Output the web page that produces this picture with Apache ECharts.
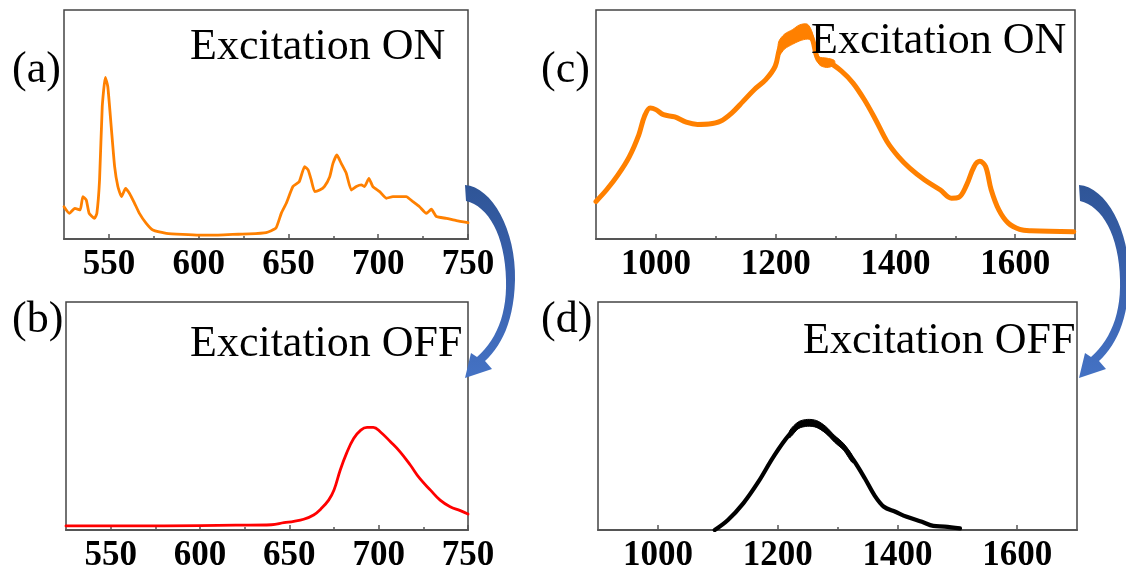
<!DOCTYPE html>
<html><head><meta charset="utf-8">
<script src="https://cdn.jsdelivr.net/npm/echarts@6/dist/echarts.min.js"></script>
<style>html,body{margin:0;padding:0;background:#fff}#c{width:1126px;height:568px}</style>
</head><body><div id="c"></div>
<script>
// ---- data (arbitrary intensity units, 0..100 of the frame height) ----
const aX = [525,528,531,534,535.5,537.4,539,542,543.3,544.8,546.3,548,549.4,551.3,553.2,555,557,559.3,561.5,564.3,567,570.8,574.5,582,591,600.5,610,619,628,637.6,643,646,648.8,652.5,656,659,661,662.7,664.6,667.4,670,673,674.8,677,679.4,682.2,685,687.8,690.6,692.4,694.8,697,700.8,704.5,708.2,712,715.6,719.3,723,726.8,729.6,732.4,738,743.5,750];
const aY = [14.1,11.2,13.4,12.7,18.5,17,11.2,9,11.2,25.8,57.8,70.6,66.5,49,31.6,22.9,18.5,22.1,19.9,15.6,11.2,6.8,3.9,2.5,2,1.7,1.7,2,2.2,2.8,4.7,11.2,15.6,22.9,25,31.6,30.1,25.8,20.7,21.4,22.9,27.2,33,36.7,33,28.7,21.4,22.9,23.6,22.9,26.5,22.9,20.7,17.8,18.5,18.5,18.5,16.3,14.1,11.2,13,9.8,9,8,7.1];

const bX = [525,560,600,620,640,647,652.5,658,663.6,668,672,675,678.5,682,686,690,693.5,697,701,706.6,712,717.7,723,729,734.4,740,745.7,750];
const bY = [1.8,1.8,1.9,2.1,2.3,3.2,3.8,4.7,6.6,9.5,13.1,17.5,26.3,33.6,40.1,43.8,45,45,43,38.7,34.3,28.5,22.6,17.5,13.1,10.2,8.5,7];

const cX = [900,917.7,936.7,955.7,971.5,981,990.5,1000,1012.6,1031.6,1050.6,1069.6,1088.6,1107.6,1126.6,1145.6,1164.6,1183.5,1199.4,1209,1228,1246.8,1259.5,1272,1291,1310,1329,1348,1367,1386,1405,1424,1449,1474.7,1493.7,1506,1519,1531.6,1541,1550.6,1560,1572.8,1588.6,1607.6,1626.6,1698];
const cY = [16.4,21.5,28,36,45.5,53.6,57.2,56.5,54.3,53.3,51,50,50.2,51.4,55,60.1,65.3,69.6,75.5,84.5,88,90.5,88.5,78,76.8,73.3,68.2,60.9,52.1,42.6,36,31,25.8,21.5,17.8,18.2,23.6,31.7,33.9,31.7,21.5,12.7,6.9,4.2,3.6,3.2];
// noisy thick band near the (c) maximum
const cBandX = [1205,1215,1228,1240,1253,1260,1265,1272,1285,1298];
const cBandLo = [80,83,85,86.5,87.3,86.5,83.5,76.4,74.9,76];
const cBandHi = [86,89.5,91.4,93.5,93.8,91,86.5,79.7,79,78];

const dX = [1095,1117,1142.6,1168,1193,1218.8,1237.8,1253.7,1269.6,1288.6,1307.7,1326.7,1345.8,1361.6,1377.5,1396.6,1415.6,1441,1460,1479,1504.5];
const dY = [0,4.4,11.7,21.2,32.1,41.6,46,46.7,45.3,41.6,37.2,30.7,22.6,15.3,10.2,8,5.8,3.6,1.8,1.5,0.7];
const dBandX = [1220,1235,1250,1265,1280,1295,1310,1325];
const dBandLo = [40.5,44.5,45.5,45,42.5,38.5,35,29.5];
const dBandHi = [43.5,47.5,48.5,48,45.5,41.5,38,32.5];

const visMajor = [550,600,650,700,750];
const visMinor = [575,625,675,725];
const nirMajor = [1000,1200,1400,1600];
const nirMinor = [1100,1300,1500];

const panelLabels = ['(a)','(b)','(c)','(d)'];
const titles = ['Excitation ON','Excitation OFF','Excitation ON','Excitation OFF'];

// ---- chart ----
const chart = echarts.init(document.getElementById('c'), null, {renderer:'canvas'});
const frame = '#444';
const grids = [
  {left:64, top:10, width:404, height:229},
  {left:66, top:302, width:402, height:228},
  {left:596, top:10, width:479, height:229},
  {left:598, top:302, width:479, height:228}
].map(g => Object.assign({show:true, borderColor:frame, borderWidth:1.5, backgroundColor:'transparent', containLabel:false, outerBoundsMode:'none'}, g));

function mainAxis(gi, min, max, interval, major){
  return {type:'value', gridIndex:gi, min, max, interval, position:'bottom',
    axisLine:{show:true, lineStyle:{color:'#555', width:2}},
    axisTick:{show:true, inside:true, length:5, customValues:major, lineStyle:{color:'#555', width:1.5}},
    axisLabel:{show:true, customValues:major, margin:8, color:'#000', fontFamily:'Liberation Serif', fontWeight:'bold', fontSize:35,
      showMinLabel:true, showMaxLabel:true,
      formatter:v => (major.indexOf(v) >= 0 ? String(v) : '')},
    splitLine:{show:false}};
}
function minorAxis(gi, min, max, interval, minor){
  return {type:'value', gridIndex:gi, min, max, interval, position:'bottom',
    axisLine:{show:false}, axisLabel:{show:false}, splitLine:{show:false},
    axisTick:{show:true, inside:true, length:3, customValues:minor, lineStyle:{color:'#555', width:1.5}}};
}
const xAxis = [
  mainAxis(0,525,750,25,visMajor), mainAxis(1,525,750,25,visMajor),
  mainAxis(2,900,1700,100,nirMajor), mainAxis(3,900,1700,100,nirMajor),
  minorAxis(0,525,750,25,visMinor), minorAxis(1,525,750,25,visMinor),
  minorAxis(2,900,1700,100,nirMinor), minorAxis(3,900,1700,100,nirMinor)
];
const yAxis = [0,1,2,3].map(gi => ({type:'value', gridIndex:gi, min:0, max:100, show:false, splitLine:{show:false}}));

function lineSeries(xs, ys, gi, color, width, smooth){
  return {type:'line', xAxisIndex:gi, yAxisIndex:gi, data:xs.map((x,i)=>[x,ys[i]]),
    showSymbol:false, symbol:'none', smooth:smooth, clip:true, silent:true,
    lineStyle:{color, width, cap:'round', join:'round'}, z:4};
}
function bandSeries(xs, lo, hi, gi, color){
  return {type:'custom', xAxisIndex:gi, yAxisIndex:gi, silent:true, z:3,
    data: xs.map((x,i)=>[x, lo[i], hi[i]]),
    renderItem:(params, api)=>{
      if (params.dataIndex !== 0) return null;
      const pts = [];
      for (let i=0;i<xs.length;i++) pts.push(api.coord([xs[i], hi[i]]));
      for (let i=xs.length-1;i>=0;i--) pts.push(api.coord([xs[i], lo[i]]));
      return {type:'polygon', shape:{points:pts, smooth:0.3}, style:{fill:color, stroke:color, lineWidth:1}};
    }};
}
const series = [
  lineSeries(aX, aY, 0, '#FF8000', 2.8, 0.15),
  lineSeries(bX, bY, 1, '#FF0000', 2.8, 0.4),
  bandSeries(cBandX, cBandLo, cBandHi, 2, '#FF8000'),
  lineSeries(cX, cY, 2, '#FF8000', 5, 0.35),
  bandSeries(dBandX, dBandLo, dBandHi, 3, '#000000'),
  lineSeries(dX, dY, 3, '#000000', 4.2, 0.35)
];

// ---- decorations: titles, panel letters, curved arrows ----
const serif = 'Liberation Serif, Times New Roman, serif';
const titlePos = [[190,47.5],[190,344],[811,41],[803,341]];
const labelPos = [[12,70],[12,320],[541,70],[541,320]];
const graphic = [];
titles.forEach((t,i)=>graphic.push({type:'text', x:titlePos[i][0], y:titlePos[i][1], z:10,
  style:{text:t, font:'44px ' + serif, fill:'#000', textAlign:'left', textVerticalAlign:'middle'}}));
panelLabels.forEach((t,i)=>graphic.push({type:'text', x:labelPos[i][0], y:labelPos[i][1], z:10,
  style:{text:t, font:'44px ' + serif, fill:'#000', textAlign:'left', textVerticalAlign:'middle'}}));

function cubic(p0,p1,p2,p3,n){
  const out=[];
  for(let k=0;k<=n;k++){const t=k/n,u=1-t;
    out.push([u*u*u*p0[0]+3*u*u*t*p1[0]+3*u*t*t*p2[0]+t*t*t*p3[0], u*u*u*p0[1]+3*u*u*t*p1[1]+3*u*t*t*p2[1]+t*t*t*p3[1]]);}
  return out;
}
function arrowPoints(dx){
  let pts = [];
  pts = pts.concat(cubic([465,185],[492,187],[516,230],[515,280],16));
  pts = pts.concat(cubic([515,280],[514,322],[501,346],[485,361],14).slice(1));
  pts.push([492,369],[465,378],[471,353],[477,357]);
  pts = pts.concat(cubic([477,357],[496,340],[507,315],[506,280],14).slice(1));
  pts = pts.concat(cubic([506,280],[505,235],[488,206],[466,201],16).slice(1));
  return pts.map(p=>[p[0]+dx,p[1]]);
}
const arrowFill = {type:'linear', x:0, y:0, x2:0, y2:1, colorStops:[{offset:0,color:'#2F5597'},{offset:0.5,color:'#3A62AE'},{offset:1,color:'#4472C4'}]};
graphic.push({type:'polygon', z:10, shape:{points:arrowPoints(0)}, style:{fill:arrowFill}});
graphic.push({type:'polygon', z:10, shape:{points:arrowPoints(614)}, style:{fill:arrowFill}});

chart.setOption({animation:false, backgroundColor:'#fff', grid:grids, xAxis, yAxis, series, graphic});
</script></body></html>
